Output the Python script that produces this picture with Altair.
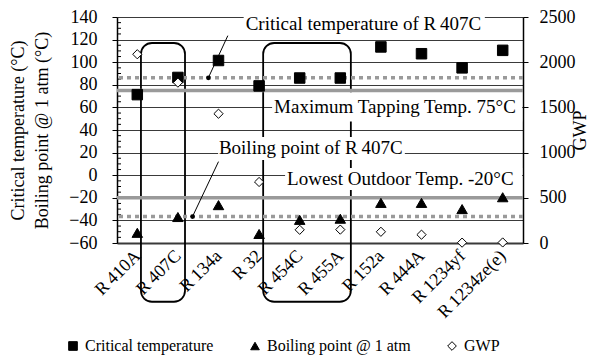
import altair as alt
import pandas as pd

# ---------------- data ----------------
categories = ["R\u2009410A", "R\u2009407C", "R\u2009134a", "R\u200932", "R\u2009454C",
              "R\u2009455A", "R\u2009152a", "R\u2009444A", "R\u20091234yf", "R\u20091234ze(e)"]
critical_temp = [71.3, 86.5, 101.5, 79.0, 86.0, 86.0, 113.5, 107.5, 95.0, 110.5]
boiling_point = [-51.0, -37.0, -26.5, -52.0, -39.5, -38.5, -24.5, -24.5, -30.0, -19.5]
gwp = [2088, 1774, 1430, 675, 146, 148, 124, 92, 4, 6]

series_names = ["Critical temperature", "Boiling point @ 1 atm", "GWP"]
temp_ticks = [-60, -40, -20, 0, 20, 40, 60, 80, 100, 120, 140]
gwp_ticks = [0, 500, 1000, 1500, 2000, 2500]
minor_ticks = [v for v in range(-55, 140, 5) if v % 20 != 0]

ref_solid = [75, -20]          # Max tapping temp, lowest outdoor temp
ref_dotted = [86.2, -36.6]     # R407C critical temp and boiling point

ann_labels = ["Critical temperature of R\u2009407C", "Maximum Tapping Temp. 75°C",
              "Boiling point of R\u2009407C", "Lowest Outdoor Temp. -20°C"]

# ---------------- styling / geometry ----------------
FONT = "Liberation Serif"
GFONT = "Liberation Serif"
N = len(categories)
idx = list(range(N))

temp_df = pd.DataFrame({
    "idx": idx * 2,
    "value": critical_temp + boiling_point,
    "series": [series_names[0]] * N + [series_names[1]] * N,
})
gwp_df = pd.DataFrame({"idx": idx, "gwp": gwp, "series": [series_names[2]] * N})

x_scale = alt.Scale(domain=[-0.5, N - 0.5], nice=False, zero=False)
y_scale = alt.Scale(domain=[-60, 140], nice=False, zero=False)
g_scale = alt.Scale(domain=[0, 2500], nice=False, zero=False)
shape_scale = alt.Scale(domain=series_names, range=["square", "triangle-up", "diamond"])
fill_scale = alt.Scale(domain=series_names, range=["black", "black", "white"])
stroke_scale = alt.Scale(domain=series_names, range=["black", "black", "black"])

label_expr = "[" + ",".join("'%s'" % c for c in categories) + "][datum.value]"

x_axis = alt.Axis(values=idx, labelExpr=label_expr, labelAngle=315, labelAlign="right",
                  labelBaseline="middle", ticks=False, grid=False, domainColor="#3a3a3a",
                  domainWidth=2, labelFont=GFONT, labelFontSize=18, labelColor="black",
                  labelPadding=10, title=None, labelOverlap=False)
y_axis = alt.Axis(values=temp_ticks, grid=True, gridColor="#3a3a3a", gridWidth=1,
                  tickSize=5, tickColor="black", domainColor="black", domainWidth=1.5,
                  labelFont=GFONT, labelFontSize=18, labelColor="black", labelPadding=15,
                  title=["Critical temperature (°C)", "Boiling  point @ 1 atm (°C)"],
                  titleFont=GFONT, titleFontSize=18, titleFontWeight="normal",
                  titleColor="black", titleLineHeight=24, titlePadding=17)
g_axis = alt.Axis(orient="right", values=gwp_ticks, format="d", grid=False, tickSize=5,
                  tickColor="black", domainColor="black", domainWidth=1.5,
                  labelFont=GFONT, labelFontSize=18, labelColor="black", labelPadding=11,
                  title="GWP", titleAngle=270, titleFont=GFONT, titleFontSize=18,
                  titleFontWeight="normal", titleColor="black", titlePadding=14)

legend = alt.Legend(orient="none", direction="horizontal", legendX=-52, legendY=321,
                    title=None, labelFont=GFONT, labelFontSize=16, labelColor="black",
                    labelLimit=400, symbolSize=75, symbolStrokeWidth=1,
                    columnPadding=33, labelOffset=4)

def X(f):
    return alt.X(f, type="quantitative", scale=x_scale, axis=x_axis)

def Y(f):
    return alt.Y(f, type="quantitative", scale=y_scale, axis=y_axis)

# minor ticks on the inside of the left axis
minor = alt.Chart(pd.DataFrame({"t": minor_ticks})).mark_rule(
    color="black", strokeWidth=1).encode(x=alt.value(0), x2=alt.value(4), y=Y("t"))

# rounded frames around R407C and R454C/R455A
frames_df = pd.DataFrame({"x0": [0.09, 3.10], "x1": [1.175, 5.26],
                          "y0": [117, 117], "y1": [-112, -112]})
frames = alt.Chart(frames_df).mark_rect(
    cornerRadius=11, fillOpacity=0, stroke="black", strokeWidth=1.8).encode(
    x=X("x0"), x2="x1", y=Y("y0"), y2="y1")

# white boxes behind the annotation texts
boxes_df = pd.DataFrame({"x0": [2.62, 3.32, 1.99, 3.64], "x1": [8.56, 9.48, 6.59, 9.48],
                         "y0": [145, 73.5, 33.8, 6.4], "y1": [122.3, 47.5, 13.5, -13.1]})
boxes = alt.Chart(boxes_df).mark_rect(color="white").encode(
    x=X("x0"), x2="x1", y=Y("y0"), y2="y1")

solid = alt.Chart(pd.DataFrame({"v": ref_solid})).mark_rule(
    color="#9a9a9a", strokeWidth=3.5).encode(y=Y("v"))
dotted = alt.Chart(pd.DataFrame({"v": ref_dotted})).mark_rule(
    color="#9a9a9a", strokeWidth=3.5, strokeDash=[4, 4]).encode(y=Y("v"))

# leader lines and dots
lead_df = pd.DataFrame({"x0": [2.23, 2.00], "y0": [123.5, 12.0],
                        "x1": [1.75, 1.36], "y1": [86.2, -36.6]})
leaders = alt.Chart(lead_df).mark_rule(color="black", strokeWidth=1).encode(
    x=X("x0"), x2="x1", y=Y("y0"), y2="y1")
dots = alt.Chart(lead_df).mark_circle(color="black", size=22, opacity=1).encode(
    x=X("x1"), y=Y("y1"))

texts_df = pd.DataFrame({"label": ann_labels, "tx": [2.67, 3.37, 2.01, 3.69],
                         "ty": [133.5, 60.3, 24.0, -3.3]})
texts = alt.Chart(texts_df).mark_text(
    align="left", baseline="middle", font=FONT, fontSize=19, color="black").encode(
    x=X("tx"), y=Y("ty"), text="label")

temp_pts = alt.Chart(temp_df).mark_point(filled=True, strokeWidth=1, opacity=1).encode(
    x=X("idx"),
    y=Y("value"),
    shape=alt.Shape("series:N", scale=shape_scale, legend=legend),
    fill=alt.Fill("series:N", scale=fill_scale, legend=legend),
    stroke=alt.Stroke("series:N", scale=stroke_scale, legend=legend),
    size=alt.value(110),
)

gwp_pts = alt.Chart(gwp_df).mark_point(filled=True, strokeWidth=1, opacity=1).encode(
    x=X("idx"),
    y=alt.Y("gwp:Q", scale=g_scale, axis=g_axis),
    shape=alt.Shape("series:N", scale=shape_scale, legend=legend),
    fill=alt.Fill("series:N", scale=fill_scale, legend=legend),
    stroke=alt.Stroke("series:N", scale=stroke_scale, legend=legend),
    size=alt.value(85),
)

temp_group = alt.layer(minor, frames, boxes, solid, dotted, leaders, dots, texts, temp_pts)

chart = alt.layer(temp_group, gwp_pts).resolve_scale(y="independent").properties(
    width=406, height=226,
    autosize=alt.AutoSizeParams(type="none"),
    padding={"left": 109, "top": 9, "right": 80, "bottom": 119},
).configure_view(stroke=None).configure(background="white", font=GFONT).configure_axis(
    labelFont=GFONT, titleFont=GFONT).configure_legend(labelFont=GFONT)

chart.save("out.html", embed_options={"renderer": "svg", "actions": False})
